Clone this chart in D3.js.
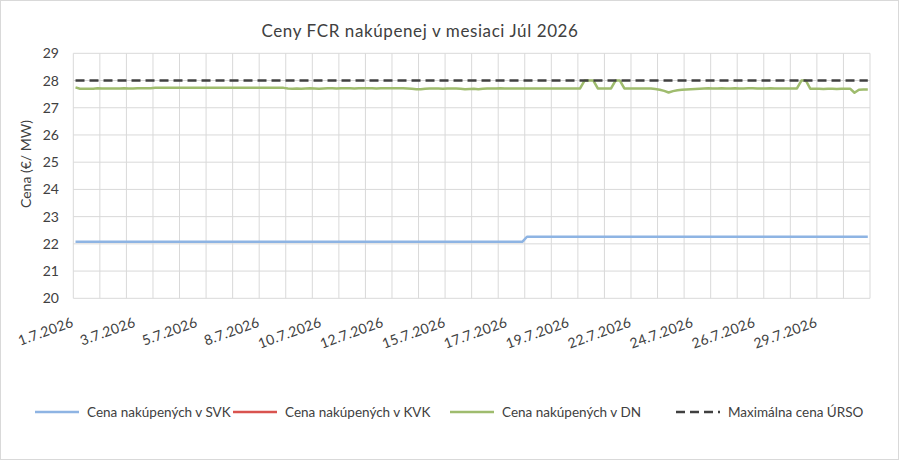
<!DOCTYPE html>
<html>
<head>
<meta charset="utf-8">
<script src="https://cdn.jsdelivr.net/npm/d3@7"></script>
<style>
  html, body { margin: 0; padding: 0; background: #fff; }
  svg { display: block; }
  text { font-family: Lato, "Open Sans", sans-serif; fill: #404040; }
</style>
</head>
<body>
<svg id="chart" width="899" height="460"></svg>
<script>
// ---------- DATA ----------
const title = "Ceny FCR nakúpenej v mesiaci Júl 2026";
const yTitle = "Cena (€/ MW)";
const days = ["1.7.2026","2.7.2026","3.7.2026","4.7.2026","5.7.2026","6.7.2026","7.7.2026","8.7.2026","9.7.2026","10.7.2026",
  "11.7.2026","12.7.2026","13.7.2026","14.7.2026","15.7.2026","16.7.2026","17.7.2026","18.7.2026","19.7.2026","20.7.2026",
  "21.7.2026","22.7.2026","23.7.2026","24.7.2026","25.7.2026","26.7.2026","27.7.2026","28.7.2026","29.7.2026","30.7.2026"];
const blocks = ["00-04","04-08","08-12","12-16","16-20","20-24"];
const categories = days.flatMap(d => blocks.map(b => d + " " + b));
const tickLabels = ["1.7.2026","3.7.2026","5.7.2026","8.7.2026","10.7.2026","12.7.2026","15.7.2026",
  "17.7.2026","19.7.2026","22.7.2026","24.7.2026","26.7.2026","29.7.2026"];
const yTicks = [20,21,22,23,24,25,26,27,28,29];
const seriesNames = ["Cena nakúpených v SVK","Cena nakúpených v KVK","Cena nakúpených v DN","Maximálna cena ÚRSO"];

const svk = [
  22.08,22.08,22.08,22.08,22.08,22.08,22.08,22.08,22.08,22.08,
  22.08,22.08,22.08,22.08,22.08,22.08,22.08,22.08,22.08,22.08,
  22.08,22.08,22.08,22.08,22.08,22.08,22.08,22.08,22.08,22.08,
  22.08,22.08,22.08,22.08,22.08,22.08,22.08,22.08,22.08,22.08,
  22.08,22.08,22.08,22.08,22.08,22.08,22.08,22.08,22.08,22.08,
  22.08,22.08,22.08,22.08,22.08,22.08,22.08,22.08,22.08,22.08,
  22.08,22.08,22.08,22.08,22.08,22.08,22.08,22.08,22.08,22.08,
  22.08,22.08,22.08,22.08,22.08,22.08,22.08,22.08,22.08,22.08,
  22.08,22.08,22.08,22.08,22.08,22.08,22.08,22.08,22.08,22.08,
  22.08,22.08,22.08,22.08,22.08,22.08,22.08,22.08,22.08,22.08,
  22.08,22.08,22.26,22.26,22.26,22.26,22.26,22.26,22.26,22.26,
  22.26,22.26,22.26,22.26,22.26,22.26,22.26,22.26,22.26,22.26,
  22.26,22.26,22.26,22.26,22.26,22.26,22.26,22.26,22.26,22.26,
  22.26,22.26,22.26,22.26,22.26,22.26,22.26,22.26,22.26,22.26,
  22.26,22.26,22.26,22.26,22.26,22.26,22.26,22.26,22.26,22.26,
  22.26,22.26,22.26,22.26,22.26,22.26,22.26,22.26,22.26,22.26,
  22.26,22.26,22.26,22.26,22.26,22.26,22.26,22.26,22.26,22.26,
  22.26,22.26,22.26,22.26,22.26,22.26,22.26,22.26,22.26,22.26
];
const kvk = []; // no values shown in the chart
const dn = [
  27.75,27.70,27.70,27.70,27.70,27.72,27.71,27.71,27.71,27.71,
  27.71,27.72,27.71,27.71,27.72,27.72,27.72,27.72,27.73,27.73,
  27.73,27.73,27.73,27.73,27.73,27.73,27.73,27.73,27.73,27.73,
  27.73,27.73,27.73,27.73,27.73,27.73,27.73,27.73,27.73,27.73,
  27.73,27.73,27.73,27.73,27.73,27.73,27.73,27.73,27.71,27.70,
  27.71,27.70,27.71,27.72,27.71,27.70,27.71,27.72,27.72,27.71,
  27.72,27.72,27.72,27.71,27.72,27.72,27.72,27.72,27.71,27.72,
  27.72,27.72,27.72,27.72,27.72,27.71,27.70,27.68,27.68,27.70,
  27.71,27.71,27.71,27.70,27.71,27.71,27.71,27.70,27.68,27.69,
  27.70,27.68,27.70,27.71,27.71,27.71,27.72,27.71,27.71,27.71,
  27.71,27.71,27.71,27.71,27.71,27.71,27.71,27.71,27.71,27.71,
  27.71,27.71,27.71,27.71,27.71,28.00,28.00,28.00,27.71,27.71,
  27.71,27.71,28.00,28.00,27.71,27.71,27.71,27.71,27.71,27.71,
  27.71,27.69,27.66,27.62,27.56,27.61,27.64,27.66,27.67,27.68,
  27.69,27.70,27.71,27.72,27.71,27.71,27.72,27.71,27.71,27.72,
  27.71,27.71,27.72,27.72,27.71,27.71,27.71,27.72,27.71,27.71,
  27.71,27.71,27.71,27.71,28.00,28.00,27.70,27.70,27.70,27.69,
  27.70,27.70,27.69,27.70,27.70,27.70,27.55,27.66,27.67,27.67
];
const urso = [
  28,28,28,28,28,28,28,28,28,28, 28,28,28,28,28,28,28,28,28,28,
  28,28,28,28,28,28,28,28,28,28, 28,28,28,28,28,28,28,28,28,28,
  28,28,28,28,28,28,28,28,28,28, 28,28,28,28,28,28,28,28,28,28,
  28,28,28,28,28,28,28,28,28,28, 28,28,28,28,28,28,28,28,28,28,
  28,28,28,28,28,28,28,28,28,28, 28,28,28,28,28,28,28,28,28,28,
  28,28,28,28,28,28,28,28,28,28, 28,28,28,28,28,28,28,28,28,28,
  28,28,28,28,28,28,28,28,28,28, 28,28,28,28,28,28,28,28,28,28,
  28,28,28,28,28,28,28,28,28,28, 28,28,28,28,28,28,28,28,28,28,
  28,28,28,28,28,28,28,28,28,28, 28,28,28,28,28,28,28,28,28,28
];
const gridEvery = 6;     // one vertical gridline per day
const labelEvery = 14;   // category label interval

// ---------- LAYOUT ----------
const W = 899, H = 460;
const plot = { left: 73.3, right: 870, top: 53.3, bottom: 298.3 };
const colors = { svk: "#8EB4E3", kvk: "#D9534F", dn: "#9FBC6E", urso: "#404040" };

const svg = d3.select("#chart");
svg.append("rect").attr("x", 0.5).attr("y", 0.5).attr("width", W - 1).attr("height", H - 1)
  .attr("fill", "#fff").attr("stroke", "#d9d9d9");

const x = d3.scaleBand().domain(d3.range(categories.length)).range([plot.left, plot.right]).padding(0);
const cx = i => x(i) + x.bandwidth() / 2;
const y = d3.scaleLinear().domain([20, 29]).range([plot.bottom, plot.top]);

// horizontal gridlines
svg.append("g").selectAll("line").data(yTicks).join("line")
  .attr("x1", plot.left).attr("x2", plot.right)
  .attr("y1", d => y(d)).attr("y2", d => y(d))
  .attr("stroke", "#d9d9d9").attr("stroke-width", 1);

// vertical gridlines (category boundaries)
const vIdx = d3.range(0, categories.length + 1, gridEvery);
svg.append("g").selectAll("line").data(vIdx).join("line")
  .attr("x1", d => d < categories.length ? x(d) : plot.right)
  .attr("x2", d => d < categories.length ? x(d) : plot.right)
  .attr("y1", plot.top).attr("y2", plot.bottom)
  .attr("stroke", "#d9d9d9").attr("stroke-width", 1);

// y tick labels
svg.append("g").selectAll("text").data(yTicks).join("text")
  .attr("x", 59).attr("y", d => y(d)).attr("dy", "0.36em")
  .attr("text-anchor", "end").attr("font-size", 14).text(d => d);

// x tick labels
const labIdx = d3.range(0, categories.length, labelEvery);
svg.append("g").selectAll("text").data(labIdx).join("text")
  .attr("text-anchor", "end").attr("font-size", 14).attr("letter-spacing", 0.3)
  .attr("transform", d => `translate(${cx(d) - 1},${326}) rotate(-20)`)
  .text((d, k) => tickLabels[k]);

// y title
svg.append("text").attr("transform", `translate(31,164) rotate(-90)`)
  .attr("text-anchor", "middle").attr("font-size", 14).text(yTitle);

// title
svg.append("text").attr("x", 420).attr("y", 37).attr("text-anchor", "middle")
  .attr("font-size", 17).attr("letter-spacing", 0.6).text(title);

// lines
const line = d3.line().x((d, i) => cx(i)).y(d => y(d));
function drawSeries(data, color, dash, width) {
  if (!data.length) return;
  svg.append("path").datum(data).attr("d", line).attr("fill", "none")
    .attr("stroke", color).attr("stroke-width", width)
    .attr("stroke-dasharray", dash || null).attr("stroke-linejoin", "round");
}
drawSeries(svk, colors.svk, null, 2.5);
drawSeries(kvk, colors.kvk, null, 2.5);
drawSeries(dn, colors.dn, null, 2.5);
drawSeries(urso, colors.urso, "9,5", 2.5);

// legend
const legend = [
  { name: seriesNames[0], color: colors.svk, dash: null, x0: 35 },
  { name: seriesNames[1], color: colors.kvk, dash: null, x0: 233 },
  { name: seriesNames[2], color: colors.dn, dash: null, x0: 450 },
  { name: seriesNames[3], color: colors.urso, dash: "9,5", x0: 676 }
];
const lg = svg.append("g").selectAll("g").data(legend).join("g")
  .attr("transform", d => `translate(${d.x0},412)`);
lg.append("line").attr("x1", 0).attr("x2", 44).attr("y1", 0).attr("y2", 0)
  .attr("stroke", d => d.color).attr("stroke-width", 2.5)
  .attr("stroke-dasharray", d => d.dash);
lg.append("text").attr("x", 52).attr("y", 0).attr("dy", "0.35em")
  .attr("font-size", 13.5).text(d => d.name);
</script>
</body>
</html>
